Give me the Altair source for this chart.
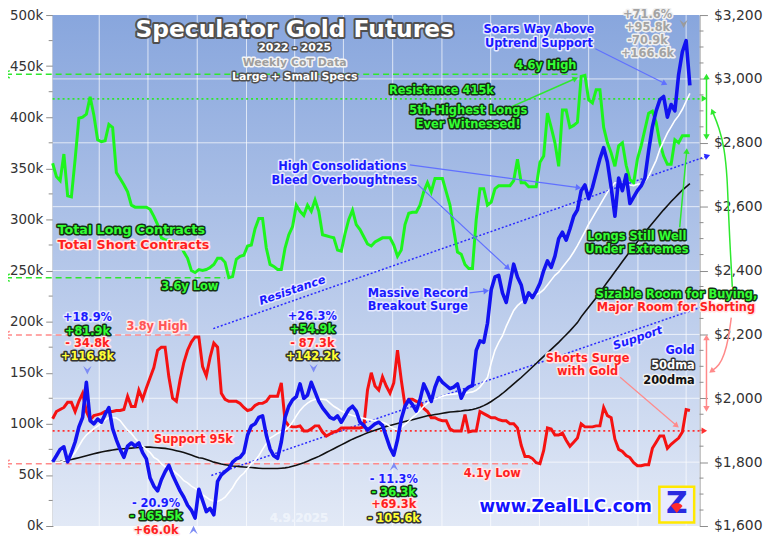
import math
import altair as alt
import pandas as pd

W, H = 652, 515
START = pd.Timestamp("2022-01-04")
END = pd.Timestamp("2025-04-26")
FONT = "DejaVu Sans"


def ms(s):
    return int(pd.Timestamp(s).value // 10**6)


XDOM = [ms(START), ms(END)]
KDOM = [0, 500]
PDOM = [1600, 3200]

# ---------------- data (weekly, from 2022-01-04 to 2025-04-08) ----------------
longs_k = [355, 342, 338, 364, 323, 322, 359, 399, 400, 403,
           420, 402, 378, 376, 377, 393, 390, 346, 340, 334,
           327, 314, 312, 312, 312, 312, 310, 303, 295, 282,
           280, 280, 279, 278, 276, 268, 262, 250, 248, 251,
           250, 251, 253, 256, 262, 262, 258, 243, 244, 261,
           264, 265, 274, 275, 291, 301, 301, 272, 256, 254,
           251, 251, 272, 285, 293, 314, 308, 304, 314, 308,
           319, 308, 285, 284, 283, 282, 270, 269, 286, 300,
           309, 295, 290, 283, 276, 274, 278, 280, 282, 282,
           282, 275, 264, 270, 295, 306, 307, 307, 314, 327,
           336, 327, 340, 340, 340, 327, 314, 290, 268, 266,
           256, 252, 252, 300, 330, 330, 314, 317, 330, 333,
           333, 333, 333, 338, 359, 336, 336, 332, 332, 332,
           356, 362, 404, 390, 375, 352, 407, 407, 390, 392,
           395, 440, 441, 417, 414, 427, 427, 390, 375, 365,
           352, 372, 375, 353, 339, 336, 359, 372, 388, 404,
           406, 395, 375, 362, 354, 354, 378, 375, 382, 382,
           382]

shorts_k = [105, 112, 114, 116, 121, 121, 112, 122, 130, 112,
            104, 108, 109, 110, 112, 112, 112, 113, 113, 114,
            127, 117, 117, 133, 124, 135, 145, 155, 172, 175,
            175, 146, 125, 122, 143, 160, 172, 180, 185, 185,
            156, 147, 165, 179, 175, 130, 124, 122, 122, 122,
            120, 116, 113, 114, 118, 120, 120, 122, 127, 127,
            127, 140, 103, 98, 97, 97, 98, 93, 93, 95,
            98, 98, 92, 88, 90, 92, 93, 96, 96, 96,
            96, 96, 96, 97, 133, 150, 137, 133, 146, 137,
            130, 140, 172, 143, 118, 124, 124, 122, 121, 115,
            112, 106, 106, 104, 103, 103, 95, 93, 93, 93,
            109, 92, 93, 93, 112, 110, 108, 106, 106, 104,
            103, 103, 100, 100, 96, 79, 68, 68, 66, 62,
            61, 74, 96, 95, 89, 89, 91, 84, 78, 82,
            86, 100, 97, 97, 97, 98, 98, 116, 108, 106,
            85, 75, 73, 69, 67, 62, 59, 59, 60, 60,
            76, 82, 88, 88, 76, 80, 83, 86, 92, 114,
            113]

gold_usd = [1801, 1820, 1840, 1848, 1801, 1830, 1863, 1910, 1940, 2050,
            1930, 1920, 1935, 1925, 1950, 1971, 1905, 1870, 1840, 1815,
            1850, 1860, 1850, 1860, 1830, 1810, 1750, 1725, 1710, 1745,
            1770, 1790, 1760, 1735, 1710, 1690, 1665, 1650, 1625, 1715,
            1680, 1645, 1655, 1635, 1740, 1760, 1770, 1780, 1800, 1810,
            1815, 1830, 1885, 1913, 1920, 1940, 1945, 1885, 1841, 1820,
            1812, 1863, 1940, 1975, 1995, 2005, 2045, 2000, 2010, 2050,
            2020, 1990, 1970, 1955, 1940, 1935, 1945, 1925, 1945, 1965,
            1975, 1960, 1925, 1915, 1900, 1910, 1920, 1925, 1915, 1880,
            1845, 1822, 1870, 1935, 1975, 1995, 1980, 1960, 1995, 2045,
            2020, 1990, 2035, 2065, 2050, 2040, 2030, 2035, 2045, 2000,
            2025, 2035, 2040, 2150, 2180, 2175, 2235, 2340, 2380, 2385,
            2330, 2300, 2360, 2420, 2380, 2355, 2300, 2330, 2315, 2335,
            2360, 2400, 2430, 2410, 2445, 2500, 2520, 2495, 2530, 2570,
            2590, 2650, 2668, 2625, 2660, 2705, 2750, 2785, 2740, 2660,
            2570, 2690, 2650, 2700, 2610, 2630, 2650, 2665, 2690, 2775,
            2850, 2900, 2935, 2945, 2880, 2920, 2900, 3014, 3085, 3120,
            2980]

gold_50dma = [1800, 1800, 1800, 1805, 1808, 1815, 1830, 1850, 1870, 1885,
              1895, 1905, 1913, 1922, 1932, 1940, 1940, 1938, 1930, 1915,
              1900, 1890, 1875, 1862, 1850, 1840, 1830, 1815, 1808, 1795,
              1785, 1780, 1775, 1765, 1755, 1742, 1735, 1725, 1718, 1710,
              1698, 1690, 1682, 1678, 1677, 1682, 1690, 1705, 1720, 1740,
              1755, 1765, 1780, 1795, 1805, 1820, 1840, 1858, 1875, 1882,
              1890, 1895, 1900, 1910, 1925, 1945, 1962, 1975, 1985, 1992,
              1996, 1998, 1997, 1995, 1985, 1975, 1968, 1960, 1955, 1950,
              1946, 1943, 1940, 1937, 1934, 1932, 1930, 1927, 1925, 1920,
              1912, 1905, 1902, 1908, 1918, 1928, 1940, 1950, 1962, 1975,
              1985, 1992, 1998, 2002, 2006, 2010, 2012, 2013, 2014, 2015,
              2015, 2018, 2020, 2025, 2035, 2050, 2065, 2110, 2150, 2175,
              2195, 2225, 2250, 2275, 2290, 2300, 2308, 2315, 2320, 2325,
              2330, 2340, 2355, 2370, 2385, 2395, 2410, 2425, 2440, 2458,
              2478, 2500, 2522, 2545, 2565, 2585, 2605, 2625, 2645, 2660,
              2675, 2675, 2675, 2672, 2668, 2666, 2670, 2672, 2680, 2695,
              2720, 2745, 2780, 2805, 2830, 2850, 2870, 2885, 2905, 2930,
              2955]

gold_200dma = [1800, 1801, 1802, 1804, 1806, 1808, 1811, 1814, 1817, 1820,
               1823, 1826, 1829, 1832, 1834, 1836, 1838, 1840, 1841, 1842,
               1843, 1844, 1845, 1846, 1846, 1847, 1847, 1846, 1845, 1844,
               1843, 1841, 1839, 1836, 1833, 1830, 1826, 1822, 1818, 1814,
               1812, 1808, 1804, 1800, 1797, 1794, 1792, 1790, 1788, 1787,
               1786, 1785, 1784, 1783, 1782, 1781, 1780, 1780, 1780, 1780,
               1780, 1781, 1782, 1784, 1787, 1790, 1794, 1798, 1803, 1808,
               1813, 1818, 1824, 1830, 1836, 1842, 1848, 1854, 1860, 1866,
               1872, 1877, 1882, 1887, 1892, 1896, 1900, 1904, 1908, 1912,
               1915, 1918, 1921, 1924, 1927, 1930, 1933, 1936, 1939, 1942,
               1945, 1947, 1949, 1951, 1953, 1955, 1957, 1958, 1959, 1960,
               1962, 1963, 1965, 1968, 1972, 1977, 1983, 1990, 1998, 2006,
               2015, 2025, 2035, 2045, 2055, 2065, 2076, 2087, 2098, 2109,
               2120, 2131, 2142, 2153, 2164, 2175, 2187, 2199, 2211, 2224,
               2237, 2255, 2270, 2285, 2300, 2315, 2332, 2348, 2364, 2380,
               2396, 2412, 2428, 2444, 2460, 2475, 2490, 2505, 2520, 2534,
               2548, 2562, 2576, 2590, 2603, 2616, 2628, 2640, 2652, 2662,
               2672]

quarter_grid = ["2022-04-01", "2022-07-01", "2022-10-01", "2023-01-01",
                "2023-04-01", "2023-07-01", "2023-10-01", "2024-01-01",
                "2024-04-01", "2024-07-01", "2024-10-01", "2025-01-01",
                "2025-04-01"]
price_grid = [1800, 2000, 2200, 2400, 2600, 2800, 3000]
year_ticks = ["2023-01-01", "2024-01-01", "2025-01-01"]
k_major = list(range(0, 501, 50))
k_minor = list(range(25, 500, 50))
p_major = list(range(1600, 3201, 200))
p_minor = [v for v in range(1650, 3200, 50) if v % 200 != 0]

weeks = pd.date_range(START, periods=len(longs_k), freq="7D")
iso = [d.strftime("%Y-%m-%dT00:00:00Z") for d in weeks]
cot = pd.DataFrame({"date": iso, "longs": longs_k, "shorts": shorts_k})
gld = pd.DataFrame({"date": iso, "gold": gold_usd, "d50": gold_50dma, "d200": gold_200dma})


def at(days):
    return (START + pd.Timedelta(days=float(days))).strftime("%Y-%m-%dT%H:%M:%SZ")


def X(axis=None):
    return alt.X("date:T", scale=alt.Scale(domain=XDOM), axis=axis)


def YK(field="k", axis=None):
    return alt.Y(f"{field}:Q", scale=alt.Scale(domain=KDOM, nice=False, zero=False), axis=axis)


def YP(field="p", axis=None):
    return alt.Y(f"{field}:Q", scale=alt.Scale(domain=PDOM, nice=False, zero=False), axis=axis)


AXG = "#8c8c8c"
x_axis = alt.Axis(values=[ms(d) for d in year_ticks], labels=False, tickSize=6,
                  tickColor=AXG, domainColor=AXG, grid=False, title=None)
left_axis = alt.Axis(orient="left", values=k_major, labelExpr="datum.value + 'k'",
                     tickSize=7, tickColor=AXG, domainColor=AXG, labelFont=FONT, labelFontSize=13.5,
                     labelColor="#333333", labelPadding=3, labelOverlap=False, grid=False, title=None)
right_axis = alt.Axis(orient="right", values=p_major, format="$,.0f",
                      tickSize=8, tickColor=AXG, domainColor=AXG, labelFont=FONT, labelFontSize=14,
                      labelColor="#333333", labelPadding=6, labelOverlap=False, grid=False, title=None)

GREEN = "#1df51d"
RED = "#f51212"
BLUE = "#1212f0"
GREEN_A = "#2ee82e"
PINK = "#ff8a8a"
RED_D = "#ff3030"
BLUE_D = "#2b2bff"
BLUE_A = "#6070ff"

# ---------------- background and grid ----------------
bg = alt.Chart(alt.Data(values=[{"a": 1}])).mark_rect(
    color=alt.Gradient(gradient="linear",
                       stops=[alt.GradientStop(color="#88a6dd", offset=0),
                              alt.GradientStop(color="#e2e9f6", offset=1)],
                       x1=0, x2=0, y1=0, y2=1)
).encode(x=alt.value(0), x2=alt.value(W), y=alt.value(0), y2=alt.value(H))

qgrid = alt.Chart(pd.DataFrame({"date": quarter_grid})).mark_rule(
    color="white", strokeWidth=1, opacity=0.7).encode(x=X(), y=alt.value(0), y2=alt.value(H))
hgrid = alt.Chart(pd.DataFrame({"p": price_grid})).mark_rule(
    color="white", strokeWidth=1, opacity=0.7).encode(y=YP(), x=alt.value(0), x2=alt.value(W))
k_minor_ticks = alt.Chart(pd.DataFrame({"k": k_minor})).mark_rule(
    color=AXG, strokeWidth=1).encode(y=YK(), x=alt.value(-4), x2=alt.value(0))
p_minor_ticks = alt.Chart(pd.DataFrame({"p": p_minor})).mark_rule(
    color=AXG, strokeWidth=1).encode(y=YP(), x=alt.value(W), x2=alt.value(W + 4))

# ---------------- reference lines and arrows (days since start, k) ----------------
level_lines = [
    ([(-87, 442), (980, 442)], GREEN_A, 1.6, [6, 4], "linear", False, False),
    ([(0, 418), (1208, 418)], GREEN_A, 1.8, [2, 3], "linear", False, False),
    ([(-87, 243), (322, 243)], GREEN_A, 1.6, [6, 4], "linear", False, False),
    ([(-87, 187), (257, 187)], PINK, 1.5, [6, 4], "linear", False, False),
    ([(0, 93), (1208, 93)], RED_D, 1.8, [2, 3], "linear", False, False),
    ([(-87, 61), (897, 61)], PINK, 1.5, [6, 4], "linear", False, False),
    ([(300, 193.2), (1222.8, 362.1)], BLUE_D, 1.5, [2, 2], "linear", False, True),
    ([(296.4, 49.5), (1208, 213.6)], BLUE_D, 1.5, [2, 2], "linear", False, False),
]
arrow_lines = [
    ([(667, 353.4), (982, 331.1)], BLUE_A, 1.2, None, "linear", False, True),
    ([(680, 335.0), (850.4, 252.4)], BLUE_A, 1.2, None, "linear", False, True),
    ([(778.2, 228.2), (809.7, 230.1)], BLUE_A, 1.2, None, "linear", False, True),
    ([(1013.5, 467.0), (1143.2, 433.0)], BLUE_A, 1.2, None, "linear", False, True),
    ([(850.4, 408.7), (976.4, 437.9)], GREEN_A, 1.5, None, "linear", False, True),
    ([(1171, 292.2), (1184, 367.0)], GREEN_A, 1.5, None, "linear", False, True),
    ([(1221, 439.8), (1221, 380.6)], GREEN_A, 1.5, None, "linear", True, True),
    ([(1269.2, 234.0), (1265.5, 269.9), (1261.8, 308.7), (1259.9, 340.8),
      (1254.4, 369.9), (1245.1, 389.3), (1232.1, 405.8)], GREEN_A, 1.5, None, "basis", False, True),
    ([(1267.3, 203.9), (1261.8, 182.5), (1254.4, 168.0), (1245.1, 157.3),
      (1230.3, 151.5)], PINK, 1.5, None, "basis", False, True),
    ([(1221, 184.5), (1221, 114.6)], PINK, 1.5, None, "linear", True, True),
    ([(1059.8, 145.6), (1165.4, 98.1)], PINK, 1.2, None, "linear", False, True),
]

PX_DAY = W / (END - START).days
PX_K = H / 500.0


def heading(p_from, p_to):
    dx = (p_to[0] - p_from[0]) * PX_DAY
    dy = -(p_to[1] - p_from[1]) * PX_K
    return math.degrees(math.atan2(dx, -dy)) % 360


heads = []


def seg_charts(segs):
    out = []
    for pts, color, width, dash, interp, hs, he in segs:
        df = pd.DataFrame({"date": [at(p[0]) for p in pts], "k": [p[1] for p in pts],
                           "o": list(range(len(pts)))})
        kw = dict(color=color, strokeWidth=width, interpolate=interp)
        if dash:
            kw["strokeDash"] = dash
        out.append(alt.Chart(df).mark_line(**kw).encode(x=X(), y=YK(), order="o:Q"))
        if he:
            heads.append({"date": at(pts[-1][0]), "k": pts[-1][1],
                          "angle": heading(pts[-2], pts[-1]), "color": color})
        if hs:
            heads.append({"date": at(pts[0][0]), "k": pts[0][1],
                          "angle": heading(pts[1], pts[0]), "color": color})
    return out


level_charts = seg_charts(level_lines)
arrow_charts = seg_charts(arrow_lines)
heads.append({"date": at(1217), "k": 418.4, "angle": 90, "color": GREEN_A})
heads.append({"date": at(1217), "k": 93.2, "angle": 90, "color": RED_D})

head_chart = alt.Chart(pd.DataFrame(heads)).mark_point(
    shape="triangle-up", filled=True, size=42, opacity=1).encode(
    x=X(), y=YK(), angle=alt.Angle("angle:Q", scale=None), color=alt.Color("color:N", scale=None))

open_heads = pd.DataFrame({"date": [at(-87)] * 4, "k": [442, 243, 187, 61],
                           "color": [GREEN_A, GREEN_A, PINK, PINK]})
open_chart = alt.Chart(open_heads).mark_point(
    shape="M1,-1L-1,0L1,1", filled=False, size=55, strokeWidth=1.5, opacity=1).encode(
    x=X(), y=YK(), color=alt.Color("color:N", scale=None))

chev_down = pd.DataFrame({"date": [at(64.8), at(487.3), at(1178.4)], "k": [152.4, 154.4, 491.3],
                          "color": ["#7d8cf5", "#7d8cf5", "#9a9a9a"]})
chev_up = pd.DataFrame({"date": [at(263.1), at(637.4)], "k": [-3.9, 58.3],
                        "color": ["#7d8cf5", "#7d8cf5"]})
chev_d_chart = alt.Chart(chev_down).mark_point(
    shape="M-1,-1L0,-0.2L1,-1L0,1Z", filled=True, size=70, opacity=1).encode(
    x=X(), y=YK(), color=alt.Color("color:N", scale=None))
chev_u_chart = alt.Chart(chev_up).mark_point(
    shape="M-1,1L0,0.2L1,1L0,-1Z", filled=True, size=70, opacity=1).encode(
    x=X(), y=YK(), color=alt.Color("color:N", scale=None))

# ---------------- logo ----------------
logo_box = alt.Chart(pd.DataFrame({"date": [at(1133)], "date2": [at(1198)], "k": [3.5], "k2": [38.5]})).mark_rect(
    fill="#e9ebff", stroke="#ffe800", strokeWidth=2.5).encode(
    x=X(), x2=alt.X2("date2:T"), y=YK(), y2=alt.Y2("k2:Q"))
logo_z = alt.Chart(pd.DataFrame({"date": [at(1165.5)], "k": [21], "t": ["Z"]})).mark_text(
    font=FONT, fontWeight="bold", fontSize=30, color="#2a2ae0", baseline="middle").encode(
    x=X(), y=YK(), text="t:N")
logo_fan = alt.Chart(pd.DataFrame({"date": [at(1165.5)], "k": [17]})).mark_point(
    shape="M0,0.7L-0.95,-0.45A1.2,1.2 0 0 1 0.95,-0.45Z", filled=True, size=150,
    color="#ff2a2a", opacity=1).encode(x=X(), y=YK())

# ---------------- text annotations ----------------
STYLES = {
    "title": ("#ffffff", "#505050", 4, 23.5),
    "sub": ("#ffffff", "#505050", 3, 11),
    "subgray": ("#9e9e9e", "#f4f4f4", 3, 11),
    "green": ("#33ff33", "#143314", 3, 11.5),
    "greenL": ("#33ff33", "#143314", 3, 12.8),
    "blue": ("#1a1aff", "#e6e9ff", 3, 11.5),
    "red": ("#ff1f1f", "#ffe6e6", 3, 11.5),
    "redL": ("#ff1f1f", "#ffe6e6", 3, 12.8),
    "pink": ("#ff5555", "#ffeaea", 3, 11.5),
    "gray": ("#a3a3a3", "#f0f0f0", 3, 11.5),
    "yellow": ("#ffff33", "#333333", 3, 11.5),
    "date": ("#eef3fb", "#eef3fb", 0, 12),
    "www": ("#1414ff", "#ffffff", 3.5, 17),
    "white": ("#ffffff", "#333333", 3, 11.5),
    "black": ("#111111", "#f0f0f0", 3, 11.5),
}


def row(d, k, text, style, angle=0):
    fill, halo, sw, size = STYLES[style]
    return {"date": at(d), "k": k, "text": text, "fill": fill, "halo": halo,
            "sw": sw, "size": size, "angle": angle}


center_rows = [
    row(452, 485.0, "Speculator Gold Futures", "title"),
    row(452, 468.0, "2022 - 2025", "sub"),
    row(452, 453.4, "Weekly CoT Data", "subgray"),
    row(452, 439.8, "Large + Small Specs", "sub"),
    row(726, 425.2, "Resistance 415k", "green"),
    row(776, 405.8, "5th-Highest Longs", "green"),
    row(776, 392.2, "Ever Witnessed!", "green"),
    row(921, 450.5, "4.6y High", "green"),
    row(908, 485.4, "Soars Way Above", "blue"),
    row(908, 471.8, "Uptrend Support", "blue"),
    row(1111, 500.0, "+71.6%", "gray"),
    row(1111, 487.4, "+95.8k", "gray"),
    row(1111, 474.8, "-70.9k", "gray"),
    row(1111, 462.1, "+166.6k", "gray"),
    row(541, 351.5, "High Consolidations", "blue"),
    row(545, 337.9, "Bleed Overboughtness", "blue"),
    row(256, 234.0, "3.6y Low", "green"),
    row(682, 227.2, "Massive Record", "blue"),
    row(682, 214.6, "Breakout Surge", "blue"),
    row(195, 195.1, "3.8y High", "pink"),
    row(65, 203.9, "+18.9%", "blue"),
    row(65, 190.3, "+81.9k", "green"),
    row(65, 177.7, "- 34.8k", "red"),
    row(65, 165.0, "+116.8k", "yellow"),
    row(485, 204.9, "+26.3%", "blue"),
    row(485, 191.3, "+54.9k", "green"),
    row(485, 177.7, "- 87.3k", "red"),
    row(485, 165.0, "+142.2k", "yellow"),
    row(263, 84.5, "Support 95k", "red"),
    row(193, 21.4, "- 20.9%", "blue"),
    row(193, 8.7, "- 165.5k", "green"),
    row(193, -4.9, "+66.0k", "red"),
    row(637, 44.7, "- 11.3%", "blue"),
    row(637, 32.0, "- 36.3k", "green"),
    row(637, 20.4, "+69.3k", "red"),
    row(637, 6.8, "- 105.6k", "yellow"),
    row(460, 7.8, "4.9.2025", "date"),
    row(821, 50.5, "4.1y Low", "red"),
    row(958, 18.4, "www.ZealLLC.com", "www"),
    row(1091, 282.5, "Longs Still Well", "green"),
    row(1091, 269.9, "Under Extremes", "green"),
    row(1165, 226.2, "Sizable Room for Buying,", "green"),
    row(1164, 213.6, "Major Room for Shorting", "red"),
    row(999, 163.1, "Shorts Surge", "red"),
    row(999, 150.5, "with Gold", "red"),
]
italic_rows = [
    row(448, 230.1, "Resistance", "blue", 341),
    row(1093, 183.5, "Support", "blue", 341),
]
left_rows = [
    row(9, 289.3, "Total Long Contracts", "greenL"),
    row(9, 274.8, "Total Short Contracts", "redL"),
]
right_rows = [
    row(1199, 170.9, "Gold", "blue"),
    row(1199, 156.3, "50dma", "white"),
    row(1199, 141.7, "200dma", "black"),
]


def text_layers(rows, align, italic=False):
    base = alt.Chart(pd.DataFrame(rows)).encode(
        x=X(), y=YK(), text="text:N",
        size=alt.Size("size:Q", scale=None),
        angle=alt.Angle("angle:Q", scale=None))
    kw = dict(align=align, baseline="middle", font=FONT, fontWeight="bold")
    if italic:
        kw["fontStyle"] = "italic"
    halo = base.mark_text(strokeJoin="round", **kw).encode(
        fill=alt.Fill("halo:N", scale=None), stroke=alt.Stroke("halo:N", scale=None),
        strokeWidth=alt.StrokeWidth("sw:Q", scale=None))
    face = base.mark_text(**kw).encode(fill=alt.Fill("fill:N", scale=None))
    return [halo, face]


texts = (text_layers(center_rows, "center") + text_layers(italic_rows, "center", True)
         + text_layers(left_rows, "left") + text_layers(right_rows, "right"))

# ---------------- series ----------------
longs_line = alt.Chart(cot).mark_line(color=GREEN, strokeWidth=3).encode(
    x=X(x_axis), y=YK("longs", left_axis))
shorts_line = alt.Chart(cot).mark_line(color=RED, strokeWidth=3).encode(
    x=X(), y=YK("shorts"))
d200_line = alt.Chart(gld).mark_line(color="#111111", strokeWidth=1.6).encode(
    x=X(), y=YP("d200"))
d50_line = alt.Chart(gld).mark_line(color="#ffffff", strokeWidth=1.6).encode(
    x=X(), y=YP("d50"))
gold_line = alt.Chart(gld).mark_line(color=BLUE, strokeWidth=3.6, strokeJoin="round").encode(
    x=X(), y=YP("gold", right_axis))

layers = ([bg, qgrid, hgrid, k_minor_ticks, p_minor_ticks] + level_charts
          + [longs_line, shorts_line, d200_line, d50_line, gold_line] + arrow_charts
          + [head_chart, open_chart, chev_d_chart, chev_u_chart, logo_box, logo_z, logo_fan]
          + texts)

chart = alt.layer(*layers).resolve_scale(y="independent").properties(
    width=W, height=H,
    autosize=alt.AutoSizeParams(type="none"),
    padding={"left": 45, "top": 5, "right": 66, "bottom": 14},
).configure_view(strokeWidth=0)

chart.save("out.html", embed_options={"renderer": "svg", "actions": False})
